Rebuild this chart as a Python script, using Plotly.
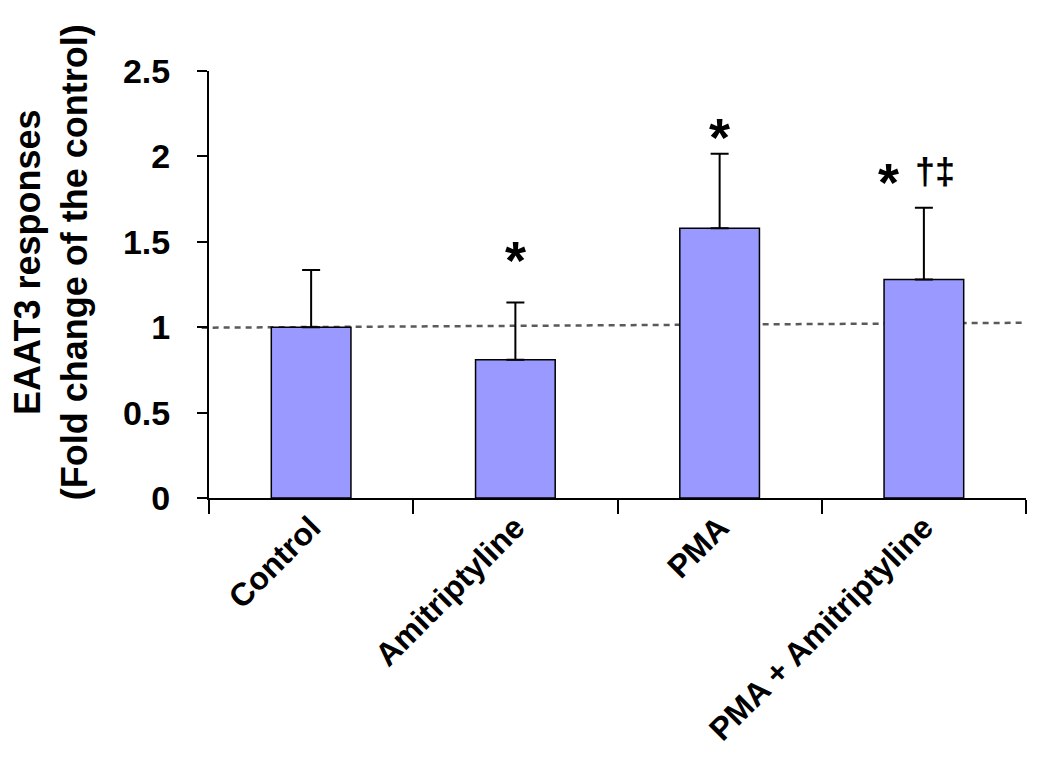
import plotly.graph_objects as go

groups = ["Control", "Amitriptyline", "PMA", "PMA + Amitriptyline"]
means = [1.0, 0.81, 1.58, 1.28]
err_up = [0.335, 0.335, 0.435, 0.42]
star = [False, True, True, True]
star_y = [None, 1.45, 2.17, 1.91]
extra = ["", "", "", "\u2020\u2021"]
ref_line = [0.997, 1.026]  # dashed "control" reference, left/right end

FONT = "Liberation Sans, Arial, sans-serif"

bars = go.Bar(
    x=groups, y=means,
    marker=dict(color="#9999ff", line=dict(color="black", width=1.5)),
    width=0.39,
    error_y=dict(type="data", symmetric=False, array=err_up,
                 arrayminus=[0] * len(means),
                 color="black", thickness=2, width=9),
)

fig = go.Figure(data=[bars])

fig.add_shape(type="line", xref="paper", yref="y",
              x0=-0.009, x1=1.0, y0=ref_line[0], y1=ref_line[1],
              line=dict(color="#5a5a5a", width=2.5, dash="6px,5px"),
              layer="below")

for g, s, y, e in zip(groups, star, star_y, extra):
    if not s:
        continue
    shift = -35 if e else 0
    fig.add_annotation(x=g, y=y, text="<b>*</b>", showarrow=False,
                       xshift=shift, yshift=-10,
                       font=dict(family=FONT, size=54, color="black"))
    if e:
        fig.add_annotation(x=g, y=y, text="<b>" + e + "</b>", showarrow=False,
                           xshift=11,
                           font=dict(family=FONT, size=36, color="black"))

fig.add_annotation(xref="paper", yref="paper", x=-0.193, y=0.553,
                   xanchor="center", yanchor="middle",
                   text="<b>EAAT3 responses<br>(Fold change of the control)</b>",
                   textangle=-90, showarrow=False,
                   font=dict(family=FONT, size=36, color="black"))

fig.update_layout(
    width=1050, height=780,
    margin=dict(l=201, r=32, t=63, b=290),
    plot_bgcolor="white", paper_bgcolor="white",
    showlegend=False,
    font=dict(family=FONT, color="black"),
)
fig.update_xaxes(
    showline=True, linecolor="black", linewidth=2,
    ticks="outside", tickson="boundaries", ticklen=14, tickwidth=2,
    tickcolor="black", tickangle=-45,
    tickfont=dict(family=FONT, size=32, color="black", weight="bold"),
    ticklabelstandoff=-4, showgrid=False,
)
fig.update_yaxes(
    range=[0, 2.5], dtick=0.5, showline=True, linecolor="black", linewidth=2,
    ticks="outside", ticklen=10, tickwidth=2, tickcolor="black",
    tickfont=dict(family=FONT, size=34, color="black", weight="bold"),
    ticklabelstandoff=20, showgrid=False, zeroline=False,
)

fig.write_html("out.html")
